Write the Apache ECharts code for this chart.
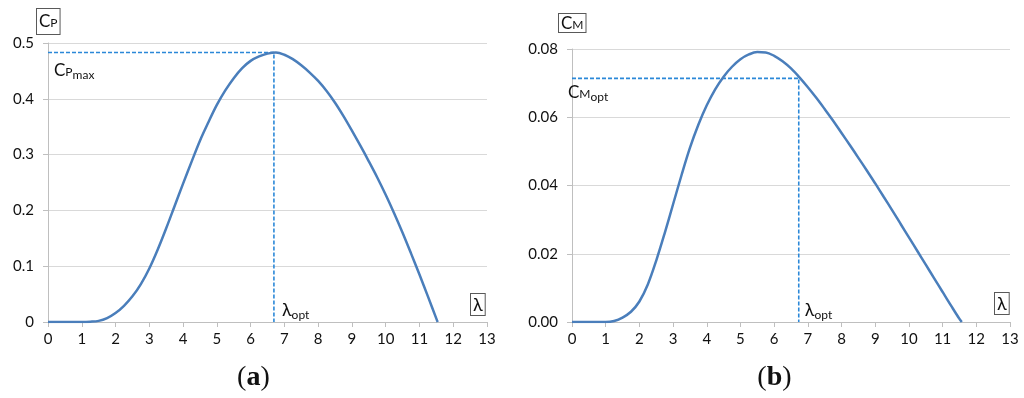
<!DOCTYPE html>
<html><head><meta charset="utf-8">
<script src="https://cdn.jsdelivr.net/npm/echarts@6/dist/echarts.min.js"></script>
<style>html,body{margin:0;padding:0;background:#fff}#c{width:1024px;height:398px}</style>
</head><body><div id="c"></div>
<script>
// ---- data ----
const xTicks = [0,1,2,3,4,5,6,7,8,9,10,11,12,13];
const cpCurve = [[0,0],[0.25,0],[0.5,0],[0.75,0],[1,0],[1.25,0.0005],[1.5,0.002],[1.75,0.007],[2,0.016],[2.25,0.029],[2.5,0.046],[2.75,0.068],[3,0.096],[3.25,0.130],[3.5,0.168],[3.75,0.208],[4,0.248],[4.25,0.287],[4.5,0.325],[4.75,0.358],[5,0.389],[5.25,0.415],[5.5,0.437],[5.75,0.455],[6,0.468],[6.25,0.476],[6.5,0.481],[6.75,0.483],[7,0.479],[7.25,0.471],[7.5,0.460],[7.75,0.447],[8,0.432],[8.25,0.414],[8.5,0.393],[8.75,0.369],[9,0.343],[9.25,0.316],[9.5,0.288],[9.75,0.259],[10,0.228],[10.25,0.195],[10.5,0.160],[10.75,0.123],[11,0.085],[11.25,0.046],[11.5,0.006],[11.54,0]];
const cmCurve = [[0,0],[0.25,0],[0.5,0],[0.75,0],[1,0],[1.25,0.0003],[1.5,0.0013],[1.75,0.003],[2,0.006],[2.25,0.011],[2.5,0.018],[2.75,0.026],[3,0.0345],[3.25,0.043],[3.5,0.051],[3.75,0.0578],[4,0.0635],[4.25,0.0682],[4.5,0.0719],[4.75,0.0748],[5,0.0770],[5.25,0.0784],[5.5,0.0791],[5.75,0.0790],[6,0.0780],[6.25,0.0764],[6.5,0.0743],[6.75,0.0717],[7,0.0688],[7.25,0.0657],[7.5,0.0624],[7.75,0.0590],[8,0.0554],[8.25,0.0518],[8.5,0.0481],[8.75,0.0444],[9,0.0406],[9.25,0.0367],[9.5,0.0328],[9.75,0.0288],[10,0.0248],[10.25,0.0208],[10.5,0.0168],[10.75,0.0128],[11,0.0088],[11.25,0.0048],[11.5,0.0009],[11.57,0]];
const cpOpt = [6.69, 0.483];   // lambda_opt, Cp_max
const cmOpt = [6.73, 0.0714];  // lambda_opt, Cm_opt
const cpTicks = [0,0.1,0.2,0.3,0.4,0.5];
const cmTicks = [0,0.02,0.04,0.06,0.08];

const FONT = 'Lato, "Open Sans", sans-serif';
const SERIF = '"Liberation Serif", "DejaVu Serif", serif';
const curveColor = '#4a7ebb';
const guideColor = '#2b88d8';
const gridGray = '#d9d9d9';
const axisGray = '#bfbfbf';

function xAxis(i){
  return {gridIndex:i,type:'value',min:xTicks[0],max:xTicks[xTicks.length-1],interval:1,
    axisLine:{show:true,onZero:false,lineStyle:{color:axisGray,width:1}},
    axisTick:{show:true,inside:false,length:5,lineStyle:{color:axisGray}},
    axisLabel:{color:'#111',fontFamily:FONT,fontSize:15,margin:10},
    splitLine:{show:false}};
}
function yAxis(i,ticks,dec){
  return {gridIndex:i,type:'value',min:ticks[0],max:ticks[ticks.length-1],interval:ticks[1]-ticks[0],
    axisLine:{show:true,lineStyle:{color:axisGray,width:1}},
    axisTick:{show:true,inside:false,length:5,lineStyle:{color:axisGray}},
    axisLabel:{color:'#111',fontFamily:FONT,fontSize:15,margin:14,
      formatter:v=> dec===0 ? String(+v.toFixed(1)) : v.toFixed(dec)},
    splitLine:{show:true,lineStyle:{color:gridGray,width:1}}};
}
function guide(opt){
  return [[xTicks[0],opt[1]],[opt[0],opt[1]],[opt[0],0]];
}
function curve(g,data){
  return {type:'line',xAxisIndex:g,yAxisIndex:g,data:data,smooth:0.35,
    showSymbol:false,symbol:'none',lineStyle:{color:curveColor,width:2.5},z:4};
}
function guideSeries(g,opt){
  return {type:'line',xAxisIndex:g,yAxisIndex:g,data:guide(opt),showSymbol:false,symbol:'none',
    lineStyle:{color:guideColor,width:1.6,type:[4,2]},z:3};
}

const chart = echarts.init(document.getElementById('c'),null,{renderer:'canvas'});
chart.setOption({
  animation:false,
  backgroundColor:'#fff',
  grid:[{left:48,right:537,top:43,bottom:76},{left:572,right:14,top:49,bottom:76}],
  xAxis:[xAxis(0),xAxis(1)],
  yAxis:[yAxis(0,cpTicks,0),yAxis(1,cmTicks,2)],
  series:[guideSeries(0,cpOpt),curve(0,cpCurve),guideSeries(1,cmOpt),curve(1,cmCurve)]
});

// ---- annotations positioned from the data via the chart's scales ----
const p = (g,pt)=>chart.convertToPixel({gridIndex:g},pt);
const richBase = {
  c:{fontFamily:FONT,fontSize:17,color:'#111'},
  sc:{fontFamily:FONT,fontSize:12,color:'#111',padding:[3,0,0,0]},
  sub:{fontFamily:FONT,fontSize:12,color:'#111',padding:[9,0,0,0]},
  l:{fontFamily:FONT,fontSize:18,color:'#111'},
  n:{fontFamily:SERIF,fontSize:28,color:'#000'},
  b:{fontFamily:SERIF,fontSize:28,fontWeight:'bold',color:'#000'}
};
function txt(x,y,text,extra){
  return {type:'text',x:x,y:y,z:10,style:Object.assign({text:text,rich:richBase,fill:'#111',fontFamily:FONT,fontSize:16},extra||{})};
}
const boxStyle = {borderColor:'#595959',borderWidth:1,backgroundColor:'#fff'};

const cpTopLeft = p(0,[xTicks[0],cpTicks[cpTicks.length-1]]);
const cmTopLeft = p(1,[xTicks[0],cmTicks[cmTicks.length-1]]);
const cpEnd = p(0,[xTicks[xTicks.length-1],0]);
const cmEnd = p(1,[xTicks[xTicks.length-1],0]);
const cpMaxPt = p(0,[xTicks[0],cpOpt[1]]);
const cmOptPt = p(1,[xTicks[0],cmOpt[1]]);
const cpLamPt = p(0,[cpOpt[0],0]);
const cmLamPt = p(1,[cmOpt[0],0]);

const graphics = [
  // axis name boxes
  txt(cpTopLeft[0]-11,cpTopLeft[1]-34,'{c|C}{sc|P}',Object.assign({},boxStyle,{padding:[4,2,4,2]})),
  txt(cmTopLeft[0]-13,cmTopLeft[1]-35,'{c|C}{sc|M}',Object.assign({},boxStyle,{padding:[1,2,0,2]})),
  txt(cpEnd[0]-16,cpEnd[1]-28,'{l|λ}',Object.assign({},boxStyle,{padding:[2,2,1,2]})),
  txt(cmEnd[0]-15,cmEnd[1]-29,'{l|λ}',Object.assign({},boxStyle,{padding:[2,2,1,2]})),
  // guide labels
  txt(cpMaxPt[0]+6,cpMaxPt[1]+8,'{c|C}{sc|P}{sub|max}'),
  txt(cmOptPt[0]-4,cmOptPt[1]+4,'{c|C}{sc|M}{sub|opt}'),
  txt(cpLamPt[0]+8,cpLamPt[1]-22,'{l|λ}{sub|opt}'),
  txt(cmLamPt[0]+6,cmLamPt[1]-22,'{l|λ}{sub|opt}'),
  // panel captions
  txt(p(0,[5.6,0])[0],364,'{n|(}{b|a}{n|)}'),
  txt(p(1,[5.5,0])[0],364,'{n|(}{b|b}{n|)}')
];
chart.setOption({graphic:graphics});
</script>
</body></html>
